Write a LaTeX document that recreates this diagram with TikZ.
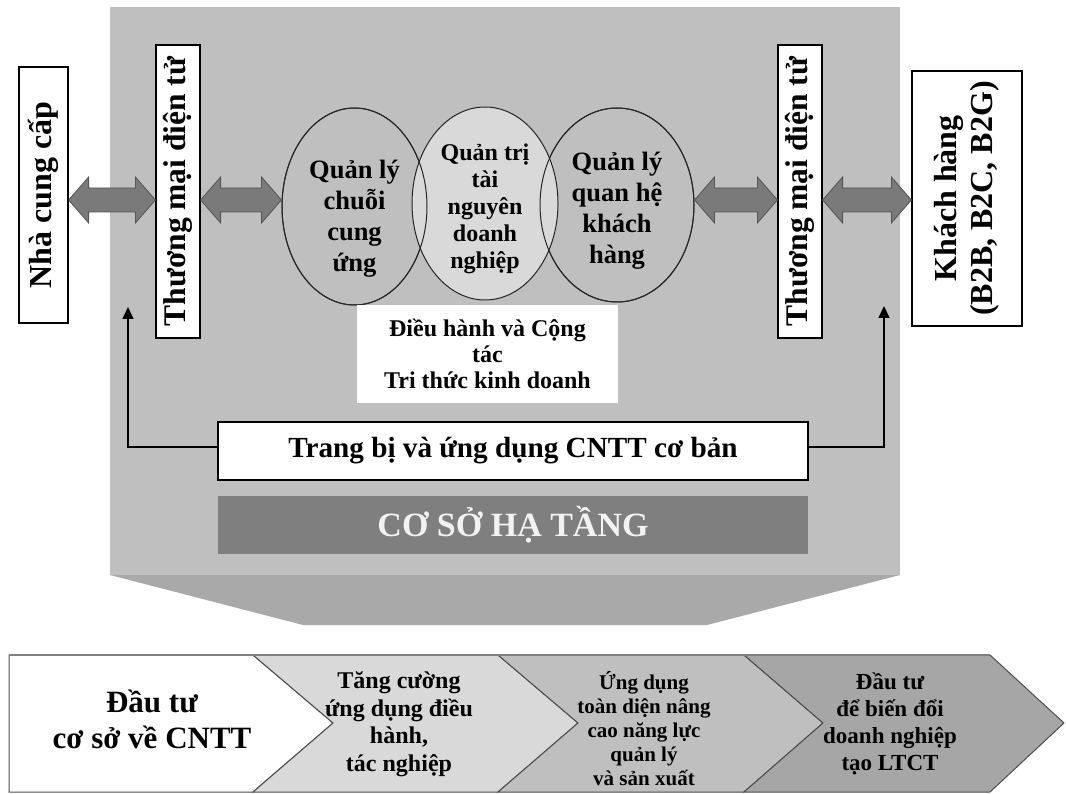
\documentclass[tikz,border=0pt]{standalone}
\usepackage{fontspec}
\setmainfont{Liberation Serif}
\usetikzlibrary{shapes.geometric,arrows.meta,calc}
\definecolor{panelgray}{HTML}{BFBFBF}
\definecolor{trapgray}{HTML}{A9A9A9}
\definecolor{lightgrayb}{HTML}{D9D9D9}
\definecolor{arrowfill}{HTML}{7A7A7A}
\definecolor{arrowline}{HTML}{555555}
\definecolor{darkbox}{HTML}{7F7F7F}
\definecolor{chevfour}{HTML}{A6A6A6}
\definecolor{edgegray}{HTML}{4D4D4D}
\tikzset{
  fs/.style 2 args={font=\fontsize{#1}{#2}\selectfont\bfseries},
  vbox/.style={draw=black, line width=1.2pt, fill=white, rotate=90, inner sep=0pt, align=center},
  ell/.style={ellipse, draw=black!85, line width=1pt, inner sep=0pt},
  etext/.style={align=center, inner sep=0pt},
  blockarr/.style={fill=arrowfill, draw=arrowline, line width=0.8pt},
  feedback/.style={draw=black, line width=1.5pt, -{Triangle[width=11pt,length=12pt]}},
  chev/.style={draw=edgegray, line width=1pt},
  ctext/.style={align=center, inner sep=0pt}
}
\newcommand\blockarrow[2]{\path[blockarr] let \p1=(#1), \p2=(#2) in
  (\x1,\y1) -- (\x1+20pt,\y1+23pt) -- (\x1+20pt,\y1+12pt) -- (\x2-20pt,\y1+12pt) --
  (\x2-20pt,\y1+23pt) -- (\x2,\y1) -- (\x2-20pt,\y1-23pt) -- (\x2-20pt,\y1-12pt) --
  (\x1+20pt,\y1-12pt) -- (\x1+20pt,\y1-23pt) -- cycle;}
\begin{document}
\begin{tikzpicture}[x=1pt,y=-1pt]
\useasboundingbox (0,0) rectangle (1066,794);
\fill[white] (0,0) rectangle (1066,794);
% main panel
\fill[panelgray] (110,7) rectangle (900,575);
\fill[trapgray] (110,575) -- (900,575) -- (707,625) -- (303,625) -- cycle;

% side boxes
\node[vbox, minimum width=256, minimum height=49, fs={32}{36}] (nha) at (43.5,195) {Nhà cung cấp};
\node[vbox, minimum width=293, minimum height=44, fs={31.5}{36}] (tmA) at (178,191.5) {Thương mại điện tử};
\node[vbox, minimum width=293, minimum height=44, fs={31.5}{36}] (tmB) at (800,191.5) {Thương mại điện tử};
\node[vbox, minimum width=255, minimum height=110, fs={32}{36}] (kh) at (967,198.5) {Khách hàng\\(B2B, B2C, B2G)};

% ellipses
\node[ell, fill=panelgray, minimum width=145, minimum height=197] (eA) at (354.5,206.5) {};
\node[ell, fill=panelgray, minimum width=154, minimum height=194] (eC) at (617,205) {};
\node[ell, fill=lightgrayb, minimum width=146, minimum height=193] (eB) at (485,203.5) {};
\draw[black!85, line width=1pt] (eA.center) ellipse [x radius=72.5, y radius=98.5];
\draw[black!85, line width=1pt] (eC.center) ellipse [x radius=77, y radius=97];
\node[etext, fs={26.5}{31}] (tA) at (354.5,219) {Quản lý\\chuỗi\\cung\\ứng};
\node[etext, fs={24}{27}] (tB) at (485,208.5) {Quản trị\\tài\\nguyên\\doanh\\nghiệp};
\node[etext, fs={26.5}{31}] (tC) at (617,211) {Quản lý\\quan hệ\\khách\\hàng};

% double block arrows
\coordinate (row) at (0,200);
\blockarrow{nha.south |- row}{tmA.north |- row}
\blockarrow{tmA.south |- row}{eA.west |- row}
\blockarrow{eC.east |- row}{tmB.north |- row}
\blockarrow{tmB.south |- row}{kh.north |- row}

% centre text box
\node[fill=white, minimum width=261, minimum height=98, align=center, inner sep=0pt, fs={24}{26}] (dh) at (487.5,354) {Điều hành và Cộng\\tác\\Tri thức kinh doanh};

% base boxes
\node[draw=black, line width=1.2pt, fill=white, minimum width=590, minimum height=58, inner sep=0pt, fs={29.2}{34}] (tb) at (513,451) {Trang bị và ứng dụng CNTT cơ bản};
\node[fill=darkbox, minimum width=590, minimum height=58, inner sep=0pt, text=white!95!black, fs={34}{38}] (cs) at (513,525) {CƠ SỞ HẠ TẦNG};

% feedback arrows
\coordinate (fl) at (128,307);
\coordinate (fr) at (884,306);
\draw[feedback] ([yshift=4pt]tb.west) -| (fl);
\draw[feedback] ([yshift=4pt]tb.east) -| (fr);

% chevrons
\path[chev, fill=white] (9,655) -- (253,655) -- (333,723) -- (253,792) -- (9,792) -- cycle;
\path[chev, fill=lightgrayb] (253,655) -- (498,655) -- (578,723) -- (498,792) -- (253,792) -- (333,723) -- cycle;
\path[chev, fill=panelgray] (498,655) -- (744,655) -- (823,723) -- (744,792) -- (498,792) -- (578,723) -- cycle;
\path[chev, fill=chevfour] (744,655) -- (990,655) -- (1064,723) -- (990,792) -- (744,792) -- (823,723) -- cycle;
\draw[gray, line width=2.5pt] (9,655) -- (990,655);

\node[ctext, fs={31}{36}] (cA) at (152,719) {Đầu tư\\cơ sở về CNTT};
\node[ctext, fs={24}{27.5}] (cB) at (399,724) {Tăng cường\\ứng dụng điều\\hành,\\tác nghiệp};
\node[ctext, fs={21}{24}] (cC) at (644,729) {Ứng dụng\\toàn diện nâng\\cao năng lực\\quản lý\\và sản xuất};
\node[ctext, fs={23}{27}] (cD) at (890,724) {Đầu tư\\để biến đổi\\doanh nghiệp\\tạo LTCT};
\end{tikzpicture}
\end{document}
